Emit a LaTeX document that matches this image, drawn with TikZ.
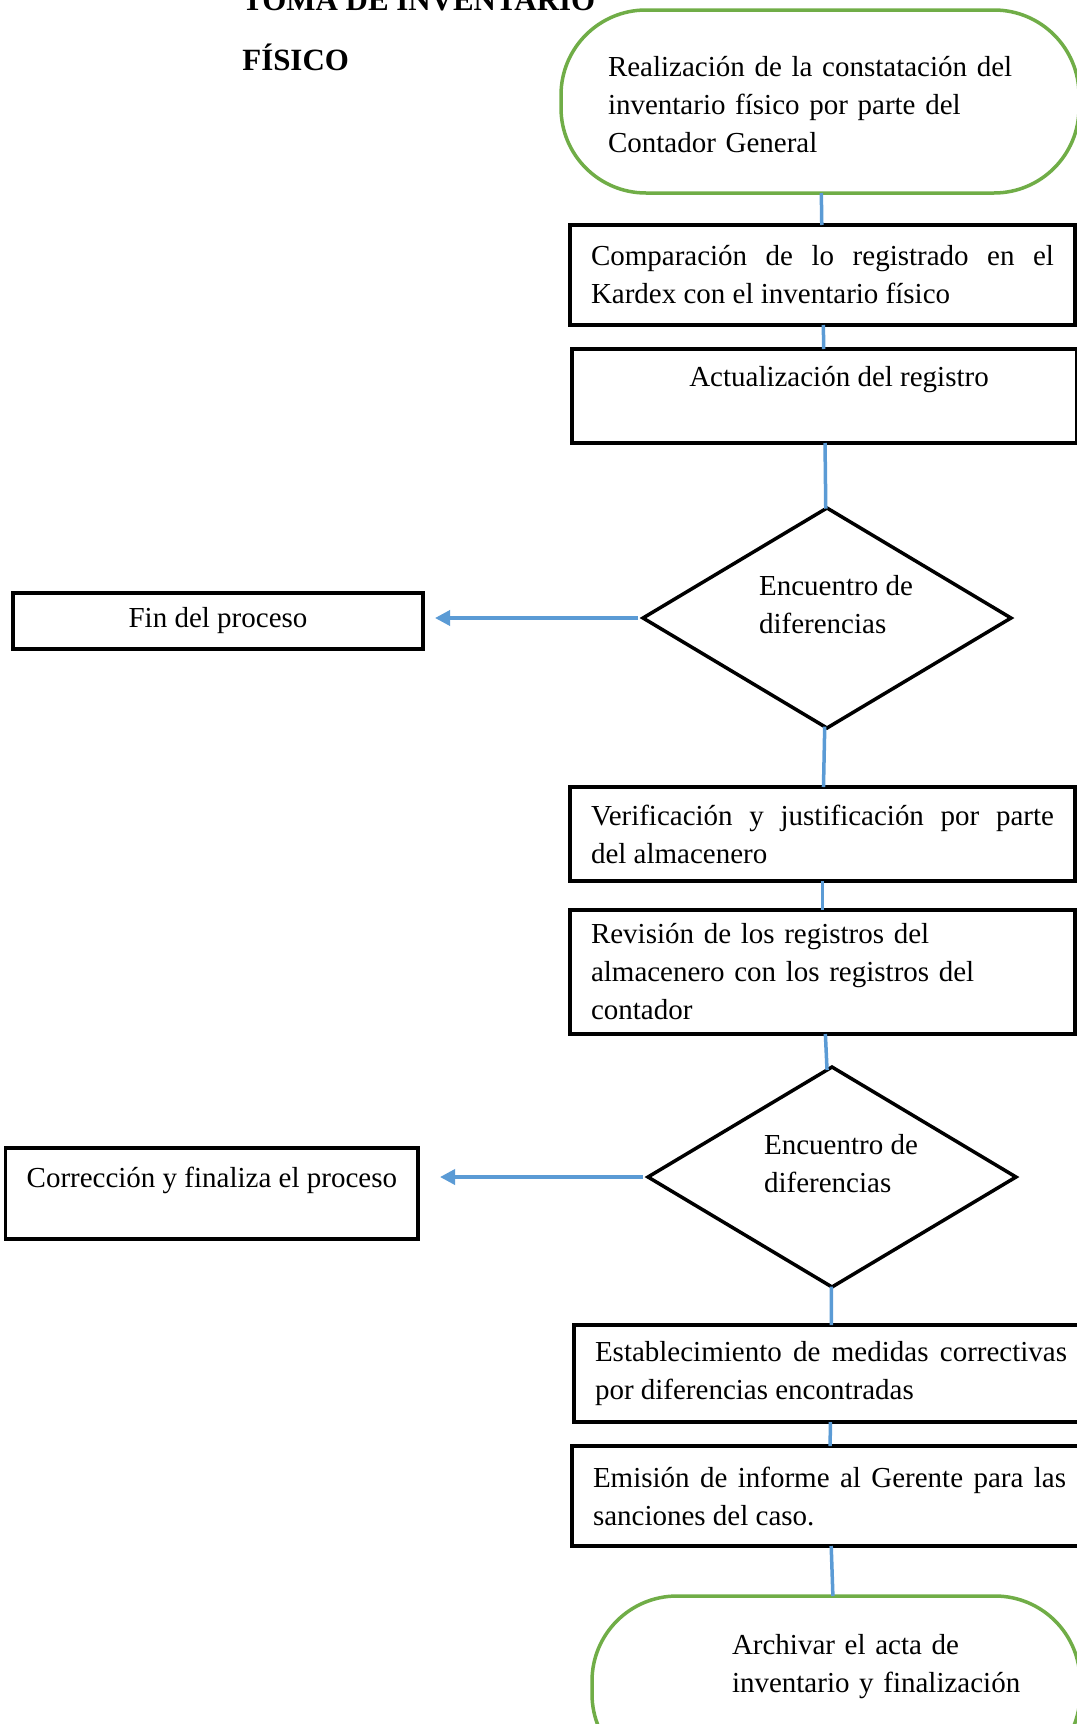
\documentclass[tikz,border=0pt]{standalone}
\usepackage{fontspec}
\setmainfont{Liberation Serif}
\usetikzlibrary{positioning,shapes.geometric,arrows.meta}

\definecolor{flowblue}{RGB}{91,155,213}
\definecolor{termgreen}{RGB}{112,173,71}
\newlength{\pxu}
\setlength{\pxu}{0.2mm}

\tikzset{
	procbox/.style={rectangle, draw=black, line width=3.5\pxu, outer sep=0pt, inner xsep=21\pxu, inner ysep=0pt},
	terminal/.style={rectangle, rounded corners=85\pxu, draw=termgreen, line width=3.5\pxu, outer sep=0pt, inner xsep=47\pxu, inner ysep=0pt, minimum height=183\pxu, align=left},
	decision/.style={diamond, shape aspect=1.67, draw=black, line width=3.5\pxu, outer sep=0pt, inner sep=0pt, minimum width=368\pxu, minimum height=220\pxu, align=left, text depth=27\pxu},
	link/.style={draw=flowblue, line width=0.7mm},
	flow/.style={draw=flowblue, line width=0.7mm, -{Triangle[length=3mm, width=3mm]}, shorten <=1mm},
}

\begin{document}
\begin{tikzpicture}[x=0.2mm, y=-0.2mm, font=\fontsize{16.5pt}{21.6pt}\selectfont]
	\useasboundingbox (0,0) rectangle (1077,1724);
	\clip (0,0) rectangle (1077,1724);

	\node[anchor=south west, align=left, inner sep=0pt, font=\fontsize{17.6pt}{34.1pt}\selectfont\bfseries] (title) at (242,71) {TOMA DE INVENTARIO\\FÍSICO};

	\node[terminal, text width=424\pxu, text depth=70\pxu] (t1) at (820,101.5) {Realización de la constatación del\\inventario físico por parte del\\Contador General};
	\node[procbox, text width=463\pxu, minimum height=100\pxu, align=justify, below=32\pxu of t1, xshift=2.5\pxu] (b2) {Comparación de lo registrado en el\linebreak Kardex con el inventario físico};
	\node[procbox, minimum width=505\pxu, text height=37.5\pxu, text depth=56.5\pxu, below=24\pxu of b2, xshift=2\pxu] (b3) {\hspace*{29\pxu}Actualización del registro};
	\node[decision, below=65\pxu of b3, xshift=2.5\pxu] (d1) {\hspace*{18\pxu}Encuentro de\\\hspace*{18\pxu}diferencias};
	\node[procbox, minimum width=410\pxu, minimum height=56\pxu, left=220\pxu of d1, yshift=-3\pxu] (fin) {Fin del proceso};
	\node[procbox, text width=463\pxu, minimum height=94\pxu, align=justify, below=59\pxu of d1, xshift=-4.5\pxu] (b4) {Verificación y justificación por parte\linebreak del almacenero};
	\node[procbox, text width=463\pxu, minimum height=124\pxu, align=left, below=29\pxu of b4] (b5) {Revisión de los registros del\\almacenero con los registros del\\contador};
	\node[decision, below=33\pxu of b5, xshift=9.5\pxu] (d2) {\hspace*{18\pxu}Encuentro de\\\hspace*{18\pxu}diferencias};
	\node[procbox, minimum width=410\pxu, text height=39\pxu, text depth=52\pxu, left=230\pxu of d2, yshift=-16.5\pxu] (cor) {Corrección y finaliza el proceso};
	\node[procbox, text width=472\pxu, minimum height=97\pxu, align=justify, below=38\pxu of d2, xshift=-1\pxu] (b6) {Establecimiento de medidas correctivas\linebreak por diferencias encontradas};
	\node[procbox, text width=473\pxu, minimum height=100\pxu, align=justify, below=24\pxu of b6, xshift=-1.5\pxu] (b7) {Emisión de informe al Gerente para las\linebreak sanciones del caso.};
	\node[terminal, inner xsep=20\pxu, text width=448\pxu, text depth=86\pxu, below=50\pxu of b7, xshift=6.5\pxu] (t2) {\hspace*{120\pxu}Archivar el acta de\\\hspace*{120\pxu}inventario y finalización};

	\path[link]
		(t1) edge (b2)
		(b2) edge (b3)
		(b3) edge (d1)
		(d1) edge (b4)
		(b4) edge (b5)
		(b5) edge (d2)
		(d2) edge (b6)
		(b6) edge (b7)
		(b7) edge (t2);

	\draw[flow, shorten >=2.4mm] (d1.west) -- (d1.west -| fin.east);
	\draw[flow, shorten >=4.4mm] (d2.west) -- (d2.west -| cor.east);
\end{tikzpicture}
\end{document}
